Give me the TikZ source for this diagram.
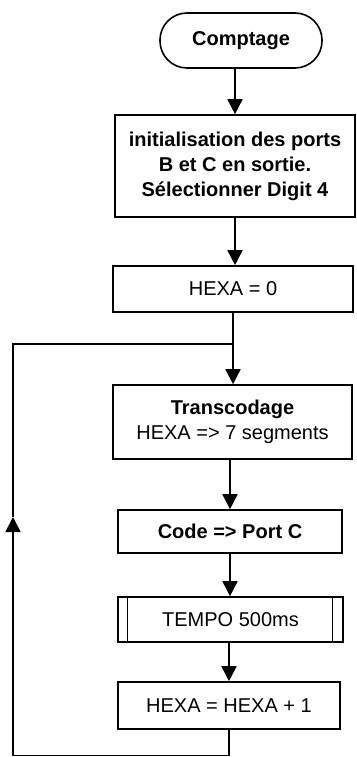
\documentclass[tikz,border=0pt]{standalone}
\usepackage{fontspec}
\setmainfont{Liberation Sans}
\usetikzlibrary{arrows.meta}
\begin{document}
\begin{tikzpicture}[x=1pt,y=-1pt,
  every node/.style={font=\fontsize{20}{25}\selectfont},
  box/.style={draw, line width=1.6pt, rectangle, align=center, inner sep=0pt},
  term/.style={draw, line width=1.6pt, rounded corners=27pt, align=center, inner sep=0pt,
    minimum width=162pt, minimum height=55pt},
  flow/.style={line width=1.6pt, -{Triangle[width=15pt,length=15pt]}},
  wire/.style={line width=1.6pt}]
\useasboundingbox (0,0) rectangle (356,757);
\node[term] (start) at (241,40.5) {\bfseries Comptage};
\node[box, minimum width=240pt, minimum height=102pt] (init) at (235,166)
  {\bfseries initialisation des ports\\\bfseries B et C en sortie.\\\bfseries Sélectionner Digit 4};
\node[box, minimum width=240pt, minimum height=46pt] (hexa0) at (233,289) {HEXA = 0};
\node[box, minimum width=239pt, minimum height=74pt] (trans) at (232.5,422)
  {\bfseries Transcodage\\HEXA => 7 segments};
\node[box, minimum width=224pt, minimum height=43pt] (code) at (230,531.5) {\bfseries Code => Port C};
\node[box, minimum width=225pt, minimum height=45pt] (tempo) at (230.5,619.5) {TEMPO 500ms};
\draw[line width=1.2pt] ([xshift=10pt]tempo.north west) -- ([xshift=10pt]tempo.south west);
\draw[line width=1.2pt] ([xshift=-11pt]tempo.north east) -- ([xshift=-11pt]tempo.south east);
\node[box, minimum width=222pt, minimum height=47pt] (inc) at (229,705.5) {HEXA = HEXA + 1};
\coordinate (j) at (233,344);
\coordinate (tl) at (13,344);
\coordinate (up) at (13,517);
\coordinate (bl) at (13,755.5);
\draw[flow] (start.south -| init.north) -- (init.north);
\draw[flow] (init.south) -- (init.south |- hexa0.north);
\draw[flow] (hexa0.south) -- (hexa0.south |- trans.north);
\draw[flow] (code.north |- trans.south) -- (code.north);
\draw[flow] (code.south) -- (tempo.north -| code.south);
\draw[flow] (inc.north |- tempo.south) -- (inc.north);
\draw[wire] (inc.south) -- (inc.south |- bl) -- (bl);
\draw[flow] (bl) -- (up);
\draw[wire] (up) -- (tl) -- (j);
\end{tikzpicture}
\end{document}
